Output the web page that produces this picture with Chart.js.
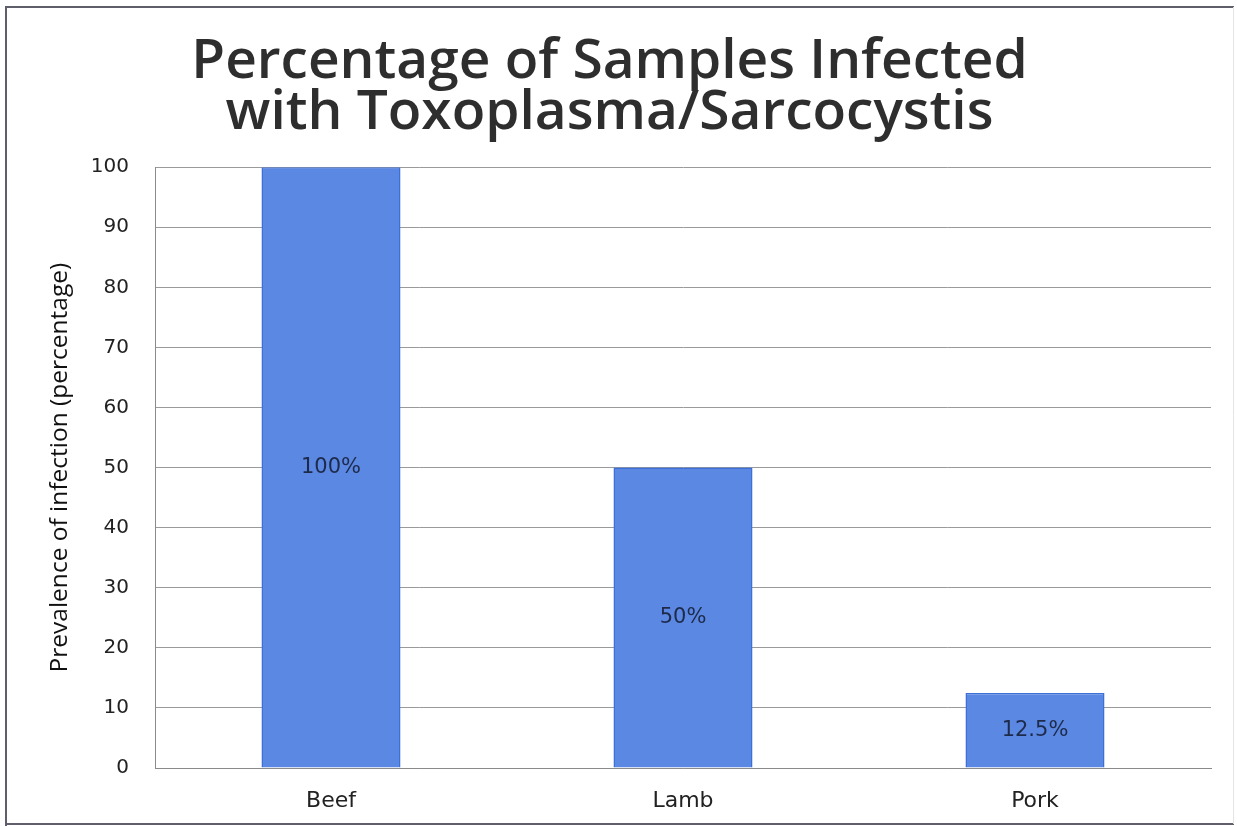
<!DOCTYPE html>
<html>
<head>
<meta charset="utf-8">
<script src="https://cdn.jsdelivr.net/npm/chart.js@4/dist/chart.umd.min.js"></script>
<style>
html,body{margin:0;padding:0;background:#fff;}
#wrap{width:1237px;height:826px;position:relative;}
</style>
</head>
<body>
<div id="wrap"><canvas id="c" width="1237" height="826"></canvas></div>
<script>
const categories = ['Beef', 'Lamb', 'Pork'];
const prevalence = [100, 50, 12.5];
const valueLabels = ['100%', '50%', '12.5%'];
const yTicks = [0, 10, 20, 30, 40, 50, 60, 70, 80, 90, 100];
const titleLines = ['Percentage of Samples Infected', 'with Toxoplasma/Sarcocystis'];
const yTitle = 'Prevalence of infection (percentage)';

const framePlugin = {
  id: 'frame',
  beforeDraw(chart) {
    const ctx = chart.ctx;
    ctx.save();
    ctx.fillStyle = '#fff';
    ctx.fillRect(0, 0, chart.width, chart.height);
    ctx.lineWidth = 2;
    ctx.strokeStyle = '#5f5f6c';
    ctx.beginPath();
    ctx.moveTo(6, 826); ctx.lineTo(6, 7); ctx.lineTo(1234, 7);
    ctx.stroke();
    ctx.beginPath();
    ctx.moveTo(6, 824); ctx.lineTo(1234, 824);
    ctx.stroke();
    ctx.lineWidth = 1;
    ctx.strokeStyle = '#e4e4e4';
    ctx.beginPath();
    ctx.moveTo(1233.5, 7); ctx.lineTo(1233.5, 824);
    ctx.stroke();
    ctx.restore();
  }
};

const labelPlugin = {
  id: 'barLabels',
  afterDatasetsDraw(chart) {
    const ctx = chart.ctx;
    const meta = chart.getDatasetMeta(0);
    ctx.save();
    ctx.font = '21px "DejaVu Sans", Verdana, sans-serif';
    ctx.fillStyle = '#1e2a4a';
    ctx.textAlign = 'center';
    ctx.textBaseline = 'middle';
    meta.data.forEach((bar, i) => {
      const p = bar.getProps(['x', 'y', 'base'], true);
      ctx.fillText(valueLabels[i], p.x, (p.y + p.base) / 2);
    });
    ctx.restore();
  }
};

new Chart(document.getElementById('c'), {
  type: 'bar',
  data: {
    labels: categories,
    datasets: [{
      data: prevalence,
      backgroundColor: '#5b88e2',
      borderColor: '#3d6fd8',
      borderWidth: 1.5,
      barPercentage: 0.395,
      categoryPercentage: 1.0
    }]
  },
  options: {
    responsive: false,
    animation: false,
    devicePixelRatio: 1,
    layout: { padding: { left: 8, right: 26, top: 0, bottom: 0 } },
    plugins: {
      legend: { display: false },
      tooltip: { enabled: false },
      title: {
        display: true,
        text: titleLines,
        color: '#2e2e2e',
        font: { family: '"Open Sans", Lato, sans-serif', size: 55, weight: 600, lineHeight: 0.92 },
        padding: { top: 37, bottom: 29 }
      }
    },
    scales: {
      x: {
        grid: { display: false, drawTicks: false },
        border: { color: '#8a8a8a', width: 1 },
        ticks: {
          color: '#222',
          font: { family: '"DejaVu Sans", Verdana, sans-serif', size: 22 },
          padding: 20
        },
        afterFit(scale) { scale.height = 58; }
      },
      y: {
        min: 0, max: 100,
        afterBuildTicks(scale) { scale.ticks = yTicks.map(v => ({ value: v })); },
        grid: { color: '#9a9a9a', lineWidth: 1, drawTicks: false },
        border: { color: '#8a8a8a', width: 1 },
        ticks: {
          color: '#222',
          font: { family: '"DejaVu Sans", Verdana, sans-serif', size: 20 },
          padding: 26
        },
        title: {
          display: true,
          text: yTitle,
          color: '#111',
          font: { family: '"Open Sans", Lato, sans-serif', size: 24.5 },
          padding: { top: 37, bottom: 0 }
        },
        afterFit(scale) { scale.width = 147; }
      }
    }
  },
  plugins: [framePlugin, labelPlugin]
});
</script>
</body>
</html>
